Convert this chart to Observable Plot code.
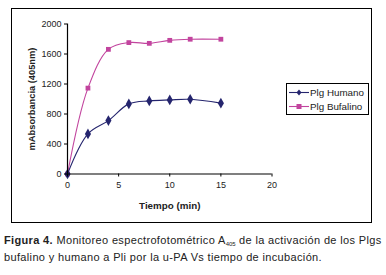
<!DOCTYPE html>
<html><head><meta charset="utf-8">
<script src="https://cdn.jsdelivr.net/npm/d3@7"></script>
<script src="https://cdn.jsdelivr.net/npm/@observablehq/plot@0.6"></script>
<style>
body{margin:0;background:#fff;font-family:"Liberation Sans",Arial,sans-serif;}
#wrap{position:relative;width:386px;height:275px;}
#box{position:absolute;left:11px;top:8px;width:361px;height:215px;box-sizing:border-box;border:1.5px solid #000;}
#legend{position:absolute;left:286px;top:83px;width:83px;height:32px;box-sizing:border-box;border:1px solid #000;background:#fff;font-size:9.8px;color:#222;}
#legend .row{position:absolute;left:2px;height:13px;line-height:13px;white-space:nowrap;}
#legend svg{vertical-align:top;}
#caption{position:absolute;left:4px;top:233px;width:386px;font-size:11px;letter-spacing:0.35px;line-height:15px;color:#222;white-space:nowrap;}
#caption .sub{font-size:6px;position:relative;top:2px;letter-spacing:0;}
</style></head><body>
<div id="wrap"><div id="box"></div><div id="legend"></div><div id="caption"></div></div>
<script>
const tiempo = [0, 2, 4, 6, 8, 10, 12, 15];
const humano = [0, 535, 712, 935, 975, 988, 996, 945];
const bufalino = [0, 1145, 1662, 1752, 1742, 1782, 1797, 1797];
const seriesNames = ["Plg Humano", "Plg Bufalino"];
const seriesColors = ["#25256e", "#c2449e"];
const xTicks = [0, 5, 10, 15, 20];
const yTicks = [0, 400, 800, 1200, 1600, 2000];

const rows = [];
tiempo.forEach((t, i) => {
  rows.push({t, v: humano[i], s: seriesNames[0]});
  rows.push({t, v: bufalino[i], s: seriesNames[1]});
});
const hum = rows.filter(d => d.s === seriesNames[0]);
const buf = rows.filter(d => d.s === seriesNames[1]);

const chart = Plot.plot({
  width: 358, height: 212,
  marginLeft: 55, marginRight: 98.5, marginTop: 14.5, marginBottom: 47.5,
  style: {fontFamily: '"Liberation Sans", Arial, sans-serif', fontSize: "9px", color: "#222", background: "transparent", overflow: "visible"},
  x: {domain: [0, 20], label: null},
  y: {domain: [0, 2000], label: null},
  marks: [
    Plot.line(buf, {x: "t", y: "v", stroke: seriesColors[1], strokeWidth: 1.1, curve: "catmull-rom"}),
    Plot.line(hum, {x: "t", y: "v", stroke: seriesColors[0], strokeWidth: 1.1, curve: "catmull-rom"}),
    Plot.dot(buf, {x: "t", y: "v", symbol: "square", fill: seriesColors[1], r: 2.7}),
    Plot.dot(hum, {x: "t", y: "v", symbol: "diamond", fill: seriesColors[0], r: 3.2}),
    Plot.ruleY([0], {stroke: "#000", strokeWidth: 1.2}),
    Plot.ruleX([0], {stroke: "#000", strokeWidth: 1.2}),
    Plot.axisX({ticks: xTicks, tickSize: 3, tickPadding: 5, label: null, stroke: "#000", tickFormat: d3.format("d")}),
    Plot.axisY({ticks: yTicks, tickSize: 3, tickPadding: 3, label: null, stroke: "#000", tickFormat: d3.format("d")}),
    Plot.text(["Tiempo (min)"], {frameAnchor: "bottom", dy: 35, fontWeight: "bold", fontSize: 9.8, fill: "#222"}),
    Plot.text(["mAbsorbancia (405nm)"], {frameAnchor: "left", dx: -35, rotate: -90, textAnchor: "middle", fontWeight: "bold", fontSize: 9.3, fill: "#222"})
  ]
});
chart.style.position = "absolute";
chart.style.left = "0px";
chart.style.top = "0px";
document.getElementById("box").appendChild(chart);

const leg = document.getElementById("legend");
seriesNames.forEach((name, i) => {
  const row = document.createElement("div");
  row.className = "row";
  row.style.top = (2 + i * 14) + "px";
  const sym = i === 0
    ? `<path d="M10,3.5 L12.5,6.5 L10,9.5 L7.5,6.5 Z" fill="${seriesColors[i]}"/>`
    : `<rect x="7.5" y="4" width="5" height="5" fill="${seriesColors[i]}"/>`;
  row.innerHTML = `<svg width="21" height="13"><line x1="0" x2="20" y1="6.5" y2="6.5" stroke="${seriesColors[i]}" stroke-width="1.1"/>${sym}</svg>${name}`;
  leg.appendChild(row);
});

document.getElementById("caption").innerHTML =
  '<b>Figura 4.</b> Monitoreo espectrofotométrico A<span class="sub">405</span> de la activación de los Plgs<br>bufalino y humano a Pli por la u-PA Vs tiempo de incubación.';
</script>
</body></html>
